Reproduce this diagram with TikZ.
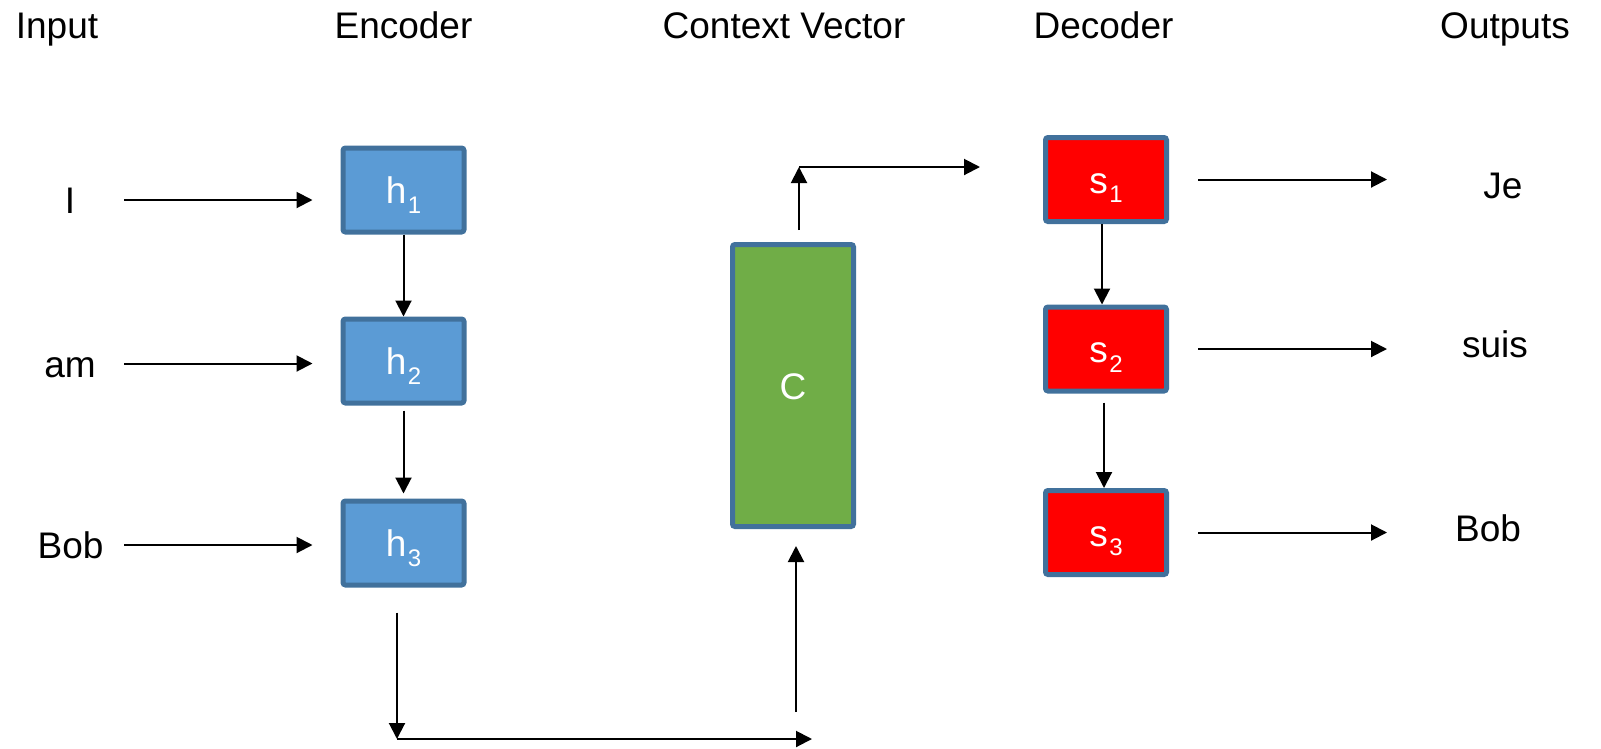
\documentclass[tikz,border=0pt]{standalone}
\usepackage{fontspec}
\setmainfont{Liberation Sans}
\usetikzlibrary{arrows.meta,calc}
\definecolor{encblue}{RGB}{91,155,213}
\definecolor{edgeblue}{RGB}{65,113,156}
\definecolor{ctxgreen}{RGB}{112,173,71}
\definecolor{decred}{RGB}{255,0,0}
% lowered index digit for the state labels
\newcommand\lowsub[1]{\kern1.5pt\raisebox{-9.5pt}{\fontsize{24pt}{24pt}\selectfont #1}}

\begin{document}
\begin{tikzpicture}[x=1pt,y=-1pt,
  txt/.style={font=\fontsize{37pt}{44pt}\selectfont, inner sep=0pt,
              text height=27pt, text depth=0pt},
  cell/.style={txt, draw=edgeblue, line width=5pt, rounded corners=2.5pt,
               text=white, minimum width=121pt, minimum height=84pt},
  enc/.style={cell, fill=encblue},
  dec/.style={cell, fill=decred},
  ctx/.style={cell, fill=ctxgreen, minimum height=282pt},
  arr/.style={line width=2pt, -{Triangle[length=16pt,width=16pt]}},
]
\useasboundingbox (0,0) rectangle (1601,748);

% column headings
\node[txt] (hin)  at (57,25)    {Input};
\node[txt] (henc) at (403.5,25) {Encoder};
\node[txt] (hctx) at (784,25)   {Context Vector};
\node[txt] (hdec) at (1103.5,25){Decoder};
\node[txt] (hout) at (1505,25)  {Outputs};

% input words
\node[txt] (in1) at (70,200)   {I};
\node[txt] (in2) at (70,363.5) {am};
\node[txt] (in3) at (70.5,545) {Bob};

% encoder states
\node[enc] (h1) at (403.5,190) {h\lowsub{1}};
\node[enc] (h2) at (403.5,361) {h\lowsub{2}};
\node[enc] (h3) at (403.5,543) {h\lowsub{3}};

% context vector
\node[ctx] (C) at (793,385.5) {C};

% decoder states
\node[dec] (s1) at (1106,179.5) {s\lowsub{1}};
\node[dec] (s2) at (1106,349)   {s\lowsub{2}};
\node[dec] (s3) at (1106,532.5) {s\lowsub{3}};

% output words
\node[txt] (out1) at (1503,184.5) {Je};
\node[txt] (out2) at (1495,344)   {suis};
\node[txt] (out3) at (1488,528)   {Bob};

% input arrows
\coordinate (instart) at (124,0);
\foreach \w/\h in {in1/h1,in2/h2,in3/h3}
  \draw[arr] (\w -| instart) -- ($(\w -| \h.west)+(-28,0)$);

% encoder chain
\draw[arr] (h1.south) -- (h2.north);
\draw[arr, shorten <=5pt, shorten >=5pt] (h2.south) -- (h3.north);

% encoder to context vector
\coordinate (encout) at ($(h3.south)+(-6.5,25)$);
\coordinate (bturn) at (397,739);
\coordinate (bend) at (812,739);
\coordinate (ctxin) at (796,712);
\draw[arr] (encout) -- (bturn);
\draw[arr] (bturn) -- (bend);
\draw[arr] (ctxin) -- ($(C.south)+(3,17)$);

% context vector to decoder
\coordinate (ctxtop) at ($(C.north)+(6,-12)$);
\coordinate (cturn) at (799,167);
\coordinate (cend) at (980,167);
\draw[arr] (ctxtop) -- (cturn);
\draw[arr] (cturn) -- (cend);

% decoder chain
\draw[arr] ([xshift=-4pt]s1.south) -- ([xshift=-4pt]s2.north);
\draw[arr, shorten <=9pt] ([xshift=-2pt]s2.south) -- ([xshift=-2pt]s3.north);

% output arrows
\coordinate (outend) at (1387,0);
\foreach \s in {s1,s2,s3}
  \draw[arr] ($(\s.east)+(29,0)$) -- (\s.east -| outend);
\end{tikzpicture}
\end{document}
